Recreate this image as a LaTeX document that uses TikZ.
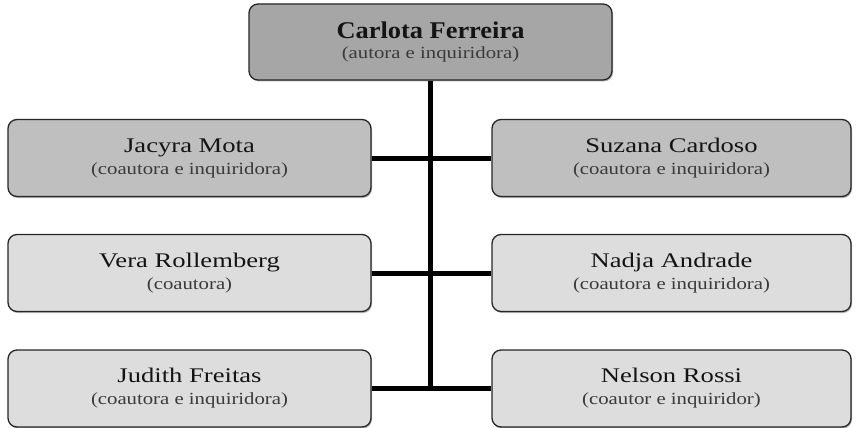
\documentclass[tikz,border=0pt]{standalone}
\usepackage{fontspec}
\setmainfont{Liberation Serif}
\usepackage{graphicx}
\usetikzlibrary{shadows}
\definecolor{cTop}{HTML}{A6A6A6}
\definecolor{cOne}{HTML}{BFBFBF}
\definecolor{cTwo}{HTML}{DDDDDD}
\definecolor{cSub}{HTML}{3A3A3A}
\newcommand\orgname[1]{\scalebox{1.28}[1]{\fontsize{20.8}{22}\selectfont #1}}
\newcommand\orgsub[1]{\scalebox{1.22}[1]{\fontsize{17}{22}\selectfont\color{cSub}#1}}
\newcommand\orgtop[1]{\scalebox{1.1}[1]{\fontsize{24}{22}\selectfont\bfseries #1}}
\begin{document}
\begin{tikzpicture}[x=1pt,y=-1pt,
  person/.style={draw=black!85, line width=1.3pt, rounded corners=9pt,
    minimum height=77pt, align=center, inner sep=0pt, text=black!92,
    font=\fontsize{17}{22}\selectfont,
    drop shadow={shadow xshift=1pt, shadow yshift=-1.5pt, opacity=0.3, fill=black}},
  leftbox/.style={person, minimum width=363pt},
  rightbox/.style={person, minimum width=359pt},
  conn/.style={draw=black, line width=5pt}]
\useasboundingbox (0,0) rectangle (857,428);
\node[person, minimum width=363pt, minimum height=76pt, fill=cTop, font=\fontsize{17}{20}\selectfont] (top) at (430.5,42)
  {\orgtop{Carlota Ferreira}\\\orgsub{(autora e inquiridora)}};
\node[leftbox, fill=cOne] (l1) at (189.5,158) {\orgname{Jacyra Mota}\\\orgsub{(coautora e inquiridora)}};
\node[rightbox, fill=cOne] (r1) at (671.5,158) {\orgname{Suzana Cardoso}\\\orgsub{(coautora e inquiridora)}};
\node[leftbox, fill=cTwo] (l2) at (189.5,273) {\orgname{Vera Rollemberg}\\\orgsub{(coautora)}};
\node[rightbox, fill=cTwo] (r2) at (671.5,273) {\orgname{Nadja Andrade}\\\orgsub{(coautora e inquiridora)}};
\node[leftbox, fill=cTwo] (l3) at (189.5,388.5) {\orgname{Judith Freitas}\\\orgsub{(coautora e inquiridora)}};
\node[rightbox, fill=cTwo] (r3) at (671.5,388.5) {\orgname{Nelson Rossi}\\\orgsub{(coautor e inquiridor)}};
\coordinate (bend) at (top.south |- l3.east);
\draw[conn] (top.south) -- (bend);
\draw[conn] (l1.east) -- (r1.west);
\draw[conn] (l2.east) -- (r2.west);
\draw[conn] (l3.east) -- (r3.west);
\end{tikzpicture}
\end{document}
